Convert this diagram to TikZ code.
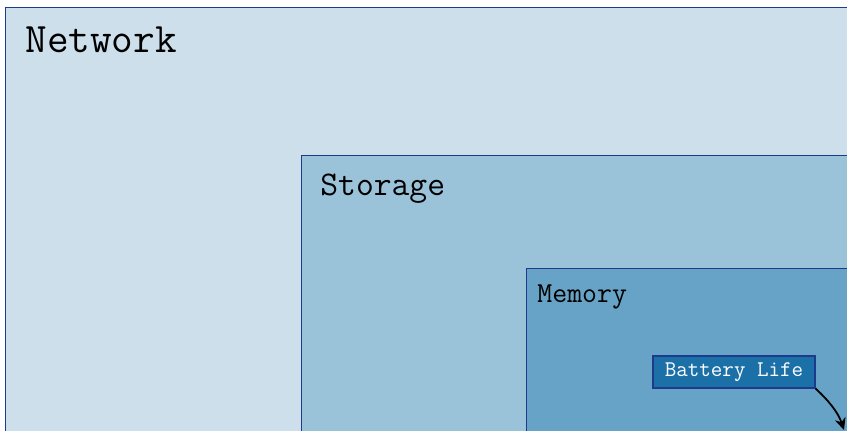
\documentclass[tikz,border=0pt]{standalone}
\usepackage{fontspec}
\usetikzlibrary{arrows.meta}
\definecolor{netfill}{HTML}{CCDFEA}
\definecolor{stofill}{HTML}{9AC2D9}
\definecolor{memfill}{HTML}{66A3C6}
\definecolor{batfill}{HTML}{1B70A8}
\definecolor{edgeblue}{HTML}{1E3A8C}
\tikzset{
  layer/.style={draw=edgeblue, line width=0.5pt},
  layerlabel/.style={anchor=base west, inner sep=0pt, font=\ttfamily},
  badge/.style={draw=edgeblue, fill=batfill, text=white, line width=0.6pt,
    minimum width=81pt, minimum height=16pt, inner sep=0pt,
    font=\ttfamily\fontsize{11.2}{12}\selectfont},
  link/.style={-{Stealth[length=6pt,width=5.5pt]}, line width=0.9pt, black}
}
\begin{document}
\begin{tikzpicture}[x=0.5pt,y=-0.5pt]
\useasboundingbox (0,0) rectangle (847,430);
\clip (0,0) rectangle (847,430);
\fill[white] (0,0) rectangle (847,430);
\draw[layer, fill=netfill] (5,7) rectangle (900,500);
\node[layerlabel, font=\ttfamily\fontsize{21}{22}\selectfont] (net) at (25,52) {Network};
\draw[layer, fill=stofill] (301,155) rectangle (900,500);
\node[layerlabel, font=\ttfamily\fontsize{17.3}{19}\selectfont] (sto) at (320,195) {Storage};
\draw[layer, fill=memfill] (526,268) rectangle (900,500);
\node[layerlabel, font=\ttfamily\fontsize{14.5}{16}\selectfont] (mem) at (537,302) {Memory};
\node[badge] (bat) at (734,372) {\raisebox{-1pt}{Battery Life}};
\coordinate (tgt) at (844,430);
\draw[link] (bat.south east) .. controls (828,400) and (838,412) .. (tgt);
\end{tikzpicture}
\end{document}
